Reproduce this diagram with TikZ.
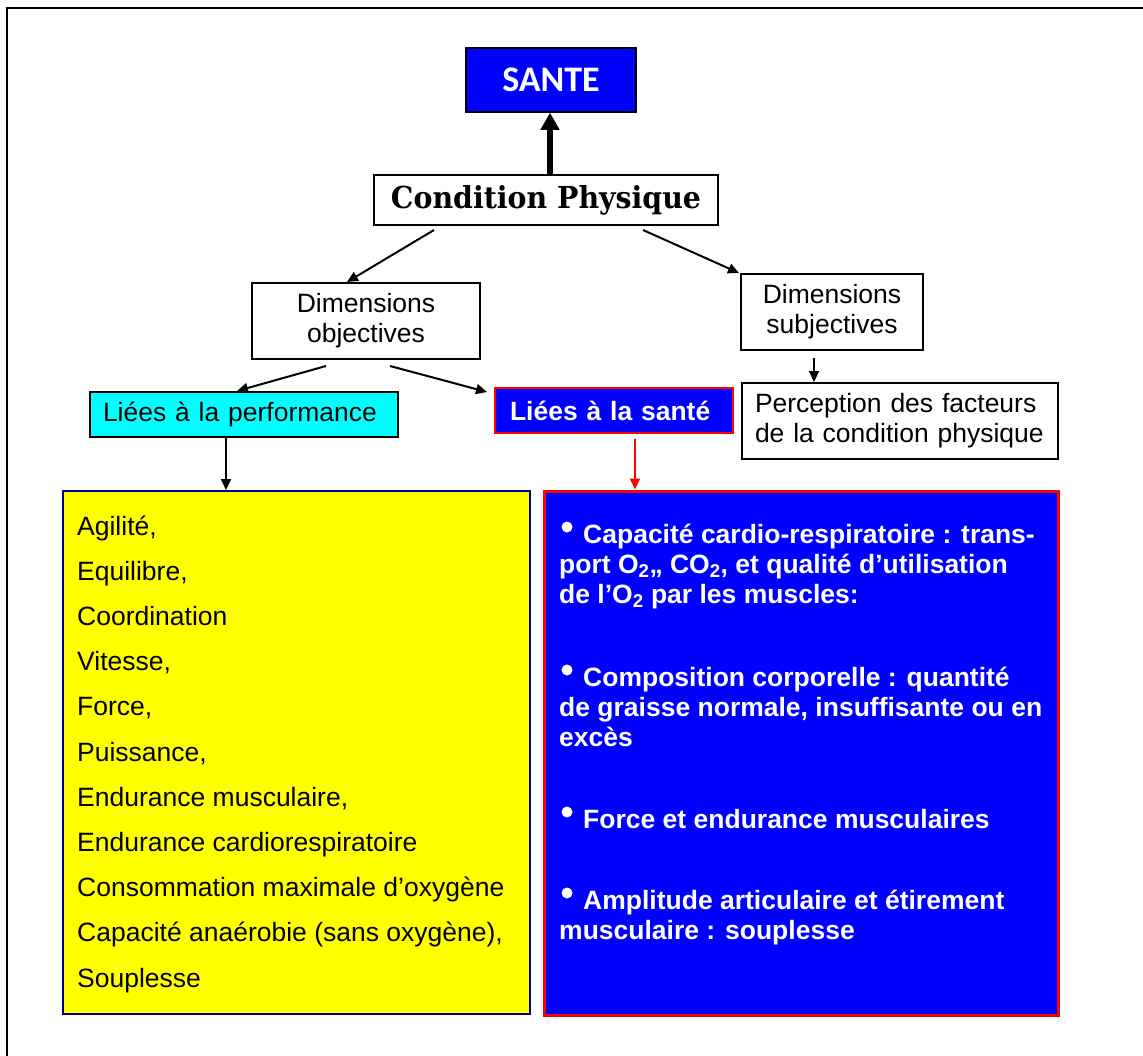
\documentclass[tikz,border=0pt]{standalone}
\usepackage{fontspec}
\setmainfont{Liberation Sans}
\newfontfamily\headfont{Carlito}
\newfontfamily\slabfont{DejaVu Serif}
\usetikzlibrary{arrows.meta,calc}
\definecolor{pureblue}{RGB}{0,0,255}
\definecolor{cyanfill}{RGB}{0,255,255}
\definecolor{yellowfill}{RGB}{255,255,0}
\definecolor{navyline}{RGB}{0,0,140}
\definecolor{redline}{RGB}{255,0,0}

\begin{document}
\begin{tikzpicture}[x=1pt,y=-1pt,
  bodytext/.style={font=\fontsize{26.5}{30}\selectfont},
  box/.style={draw=black,line width=2pt,inner sep=0pt,bodytext},
  conn/.style={line width=2pt,-{Triangle[width=10pt,length=11pt]}},
  redconn/.style={draw=redline,line width=1.8pt,-{Triangle[width=10pt,length=11pt]}},
  listline/.style={anchor=base west,inner sep=0pt,bodytext},
  blueline/.style={anchor=base west,inner sep=0pt,text=white,
    font=\fontsize{26.5}{30}\selectfont\bfseries},
  dot/.style={circle,fill=white,inner sep=0pt,minimum size=11pt}]

\useasboundingbox (0,0) rectangle (1143,1055);
\clip (0,0) rectangle (1143,1055);

% outer frame, running past the right and bottom edges
\draw[line width=2pt] (7,8) rectangle (1200,1100);

% top of the hierarchy
\node[draw=black,line width=1.5pt,fill=pureblue,minimum width=170pt,minimum height=64pt,
      inner sep=0pt,text=white,font=\headfont\fontsize{36}{40}\selectfont\bfseries]
      (sante) at (551,80) {SANTE};
\node[box,minimum width=344pt,minimum height=50pt] (cp) at (546,200)
      {\resizebox{310pt}{23pt}{\slabfont\bfseries Condition Physique}};

% dimensions
\node[box,align=center,minimum width=228pt,minimum height=76pt] (dobj) at (366,321)
      {Dimensions\\objectives};
\node[box,align=center,minimum width=182pt,minimum height=76pt] (dsubj) at (832,312)
      {Dimensions\\subjectives};
\node[box,align=left,text width=290pt,inner xsep=13pt,minimum height=76pt] (perc) at (900,421)
      {Perception des facteurs\\de la condition physique};

% categories
\node[box,fill=cyanfill,align=left,text width=282pt,inner xsep=13pt,minimum height=45pt]
      (perf) at (244,414.5) {Liées à la performance};
\node[box,draw=redline,fill=pureblue,align=left,text width=208pt,inner xsep=15pt,
      minimum height=45pt,text=white,font=\fontsize{26.5}{30}\selectfont\bfseries]
      (hsante) at (614,410.5) {Liées à la santé};

% detail panels
\node[draw=navyline,line width=2pt,fill=yellowfill,minimum width=467pt,minimum height=523pt,
      inner sep=0pt] (ybox) at (296.5,752.5) {};
\node[draw=redline,line width=3pt,fill=pureblue,minimum width=514pt,minimum height=524pt,
      inner sep=0pt] (bbox) at (801,753) {};

% performance-related qualities
\foreach \t [count=\i from 0] in {{Agilité,},{Equilibre,},Coordination,{Vitesse,},{Force,},
  {Puissance,},{Endurance musculaire,},Endurance cardiorespiratoire,
  Consommation maximale d’oxygène,{Capacité anaérobie (sans oxygène),},Souplesse}
  \node[listline] (q\i) at (77,{535+45.2*\i}) {\t};

% health-related qualities
\node[dot] (b1) at (567,527) {};
\node[blueline] (h1a) at (583,543) {Capacité cardio-respiratoire : trans-};
\node[blueline] (h1b) at (559,573) {port O\textsubscript{2},, CO\textsubscript{2}, et qualité d’utilisation};
\node[blueline] (h1c) at (559,603) {de l’O\textsubscript{2} par les muscles:};
\node[dot] (b2) at (567,670) {};
\node[blueline] (h2a) at (583,686) {Composition corporelle : quantité};
\node[blueline] (h2b) at (559,716) {de graisse normale, insuffisante ou en};
\node[blueline] (h2c) at (559,746) {excès};
\node[dot] (b3) at (567,812) {};
\node[blueline] (h3a) at (583,828) {Force et endurance musculaires};
\node[dot] (b4) at (567,893) {};
\node[blueline] (h4a) at (583,909) {Amplitude articulaire et étirement};
\node[blueline] (h4b) at (559,939) {musculaire : souplesse};

% connectors
\draw[line width=6pt,-{Triangle[width=18pt,length=17pt]}]
      ($(cp.north)+(4,0)$) -- ($(sante.south)+(-1,0)$);
\draw[conn] ($(cp.south)+(-112,4)$) -- ($(dobj.north)+(-19,0)$);
\draw[conn] ($(cp.south)+(97,4)$) -- ($(dsubj.north west)+(-1,0)$);
\draw[conn] ($(dsubj.south)+(-18,7)$) -- ($(perc.north)+(-86,0)$);
\draw[conn] ($(dobj.south)+(-40,6)$) -- ($(perf.north)+(-7,0)$);
\draw[conn] ($(dobj.south)+(24,6)$) -- ($(hsante.north west)+(-7,5)$);
\draw[conn] ($(perf.south)+(-18,0)$) -- ($(ybox.north)+(-70.5,0)$);
\draw[redconn] ($(hsante.south)+(21,5)$) -- ($(bbox.north)+(-166,0)$);
\end{tikzpicture}
\end{document}
